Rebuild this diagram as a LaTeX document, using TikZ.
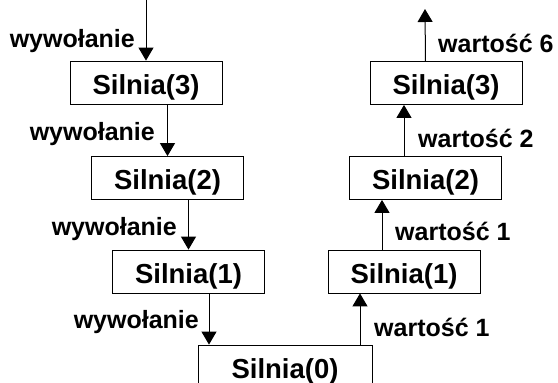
\documentclass[tikz,border=0pt]{standalone}
\usepackage{fontspec}
\setmainfont{Liberation Sans}
\usetikzlibrary{arrows.meta}
\tikzset{
	silnia/.style={draw, line width=0.8pt, inner sep=0pt, minimum width=152pt, minimum height=43pt,
		text height=23pt, text depth=0pt, font=\fontsize{27.5}{28}\selectfont\bfseries},
	opis/.style={inner sep=0pt, font=\fontsize{25}{25}\selectfont\bfseries},
	strz/.style={line width=1pt, -{Triangle[length=13pt,width=15pt]}}
}
\begin{document}
\begin{tikzpicture}[x=1pt,y=-1pt]
				\useasboundingbox (0,0) rectangle (558,383);
				\node[silnia] (L3) at (146,82.5) {Silnia(3)};
				\node[silnia] (L2) at (167.5,178) {Silnia(2)};
				\node[silnia] (L1) at (188.5,271.5) {Silnia(1)};
				\node[silnia, minimum width=174pt] (L0) at (285,366.5) {Silnia(0)};
				\node[silnia] (R3) at (446,83) {Silnia(3)};
				\node[silnia] (R2) at (425.5,178) {Silnia(2)};
				\node[silnia] (R1) at (404,271.5) {Silnia(1)};
				\coordinate (start) at (146,0);
				\coordinate (koniec) at (425,9);
				\coordinate (k0) at (209,0);
				\coordinate (k1) at (360,0);
				\coordinate (k2) at (382,0);
				\draw[strz] (start) -- (L3.north);
				\draw[strz] (L3.south -| L2) -- (L2.north);
				\draw[strz] (L2.south -| L1) -- (L1.north);
				\draw[strz] (L1.south -| k0) -- (L0.north -| k0);
				\draw[strz] (L0.north -| k1) -- (R1.south -| k1);
				\draw[strz] (R1.north -| k2) -- (R2.south -| k2);
				\draw[strz] (R2.north -| R1) -- (R3.south -| R1);
				\draw[strz] (R3.north -| R2) -- (koniec);
				\node[opis, anchor=base east] (w3) at (135,47) {wywołanie};
				\node[opis, anchor=base east] (w2) at (155,140) {wywołanie};
				\node[opis, anchor=base east] (w1) at (177,235) {wywołanie};
				\node[opis, anchor=base east] (w0) at (199,328) {wywołanie};
				\node[opis, anchor=base west] (v6) at (438,52) {wartość 6};
				\node[opis, anchor=base west] (v2) at (418,147) {wartość 2};
				\node[opis, anchor=base west] (v1) at (395,240) {wartość 1};
				\node[opis, anchor=base west] (v0) at (374,336) {wartość 1};
\end{tikzpicture}
\end{document}
